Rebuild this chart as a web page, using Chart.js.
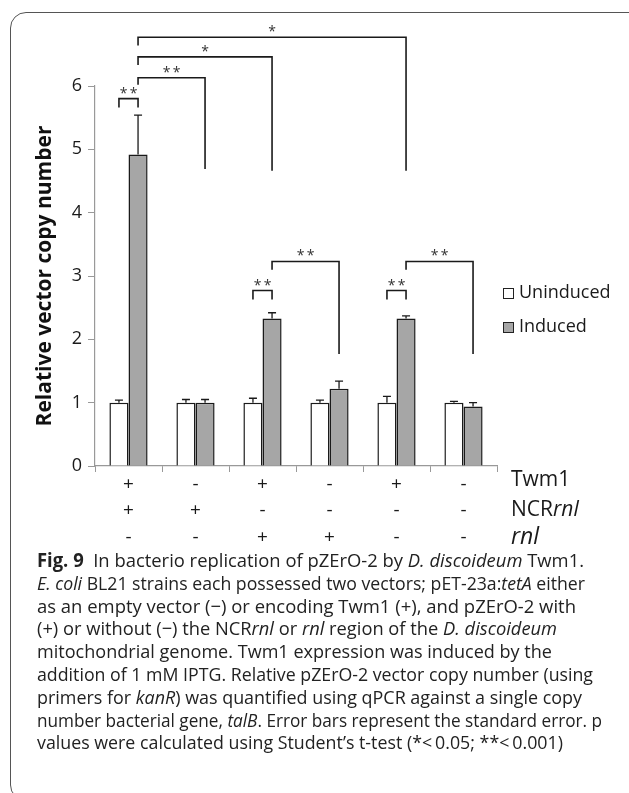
<!DOCTYPE html>
<html>
<head>
<meta charset="utf-8">
<script src="https://cdn.jsdelivr.net/npm/chart.js@4.4.1/dist/chart.umd.min.js"></script>
<style>
  html, body { margin: 0; padding: 0; background: #fff; }
  body { width: 629px; height: 793px; position: relative; overflow: hidden; font-family: 'Open Sans', 'Liberation Sans', sans-serif; color: #1a1a1a; }
  #frame { position: absolute; left: 10px; top: 12px; width: 650px; height: 789px; border: 1.5px solid #555; border-radius: 16px; box-sizing: border-box; }
  #c { position: absolute; left: 0; top: 0; }
  .lg { position: absolute; left: 503px; font-size: 18px; line-height: 22px; white-space: nowrap; }
  .lg span.box { display: inline-block; width: 11px; height: 11px; border: 1.5px solid #222; box-sizing: border-box; margin-right: 5px; vertical-align: -1px; }
  .rl { position: absolute; left: 511px; white-space: nowrap; line-height: 26px; }
  .cap { position: absolute; white-space: nowrap; font-size: 19px; line-height: 22px; transform-origin: 0 50%; color: #222; }
</style>
</head>
<body>
<div id="frame"></div>
<canvas id="c" width="629" height="560"></canvas>

<div class="lg" style="top:280px"><span class="box" style="background:#fff"></span>Uninduced</div>
<div class="lg" style="top:314px"><span class="box" style="background:#a6a6a6"></span>Induced</div>

<div class="rl" style="top:465px;font-size:21px">Twm1</div>
<div class="rl" style="top:495px;font-size:21px">NCR<i>rnl</i></div>
<div class="rl" style="top:522px;font-size:23px"><i>rnl</i></div>

<div id="caption"></div>

<script>
// ---- data ----
const twm1Row   = ['+', '-', '+', '-', '+', '-'];
const ncrRnlRow = ['+', '+', '-', '-', '-', '-'];
const rnlRow    = ['-', '-', '+', '+', '-', '-'];
const seriesNames = ['Uninduced', 'Induced'];
const uninduced    = [1.00, 1.00, 1.00, 1.00, 1.00, 1.00];
const uninducedErr = [0.04, 0.05, 0.07, 0.04, 0.10, 0.02];
const induced      = [4.92, 1.00, 2.33, 1.22, 2.33, 0.94];
const inducedErr   = [0.62, 0.05, 0.09, 0.12, 0.04, 0.06];
const yTicks = [0, 1, 2, 3, 4, 5, 6];

// significance brackets: [group, series] endpoints, y values in data units
const brackets = [
  { a: [0, 0], b: [0, 1], top: 5.80, endA: 5.66, endB: 5.66, label: '**' },
  { a: [0, 1], b: [1, 1], top: 6.13, endA: 6.02, endB: 4.69, label: '**' },
  { a: [0, 1], b: [2, 1], top: 6.46, endA: 6.33, endB: 4.66, label: '*' },
  { a: [0, 1], b: [4, 1], top: 6.77, endA: 6.64, endB: 4.66, label: '*' },
  { a: [2, 0], b: [2, 1], top: 2.77, endA: 2.63, endB: 2.63, label: '**' },
  { a: [2, 1], b: [3, 1], top: 3.23, endA: 3.10, endB: 1.77, label: '**' },
  { a: [4, 0], b: [4, 1], top: 2.77, endA: 2.63, endB: 2.63, label: '**' },
  { a: [4, 1], b: [5, 1], top: 3.23, endA: 3.10, endB: 1.77, label: '**' }
];

const categories = twm1Row.map((t, i) => [t, ncrRnlRow[i], rnlRow[i]]);
const errs = [uninducedErr, inducedErr];

const extras = {
  id: 'extras',
  afterDatasetsDraw(chart) {
    const ctx = chart.ctx;
    const y = chart.scales.y;
    ctx.save();
    // error bars (upper only)
    ctx.strokeStyle = '#1a1a1a';
    ctx.lineWidth = 1.3;
    chart.data.datasets.forEach((ds, di) => {
      const meta = chart.getDatasetMeta(di);
      meta.data.forEach((bar, i) => {
        const v = ds.data[i];
        const yt = y.getPixelForValue(v + errs[di][i]);
        const yb = y.getPixelForValue(v);
        ctx.beginPath();
        ctx.moveTo(bar.x, yb);
        ctx.lineTo(bar.x, yt);
        ctx.moveTo(bar.x - 4, yt);
        ctx.lineTo(bar.x + 4, yt);
        ctx.stroke();
      });
    });
    // brackets
    ctx.lineWidth = 1.6;
    ctx.strokeStyle = '#1a1a1a';
    ctx.fillStyle = '#333';
    ctx.font = '14px "Open Sans"';
    ctx.textAlign = 'center';
    ctx.textBaseline = 'alphabetic';
    brackets.forEach(b => {
      const xa = chart.getDatasetMeta(b.a[1]).data[b.a[0]].x;
      const xb = chart.getDatasetMeta(b.b[1]).data[b.b[0]].x;
      const yt = y.getPixelForValue(b.top);
      ctx.beginPath();
      ctx.moveTo(xa, y.getPixelForValue(b.endA));
      ctx.lineTo(xa, yt);
      ctx.lineTo(xb, yt);
      ctx.lineTo(xb, y.getPixelForValue(b.endB));
      ctx.stroke();
      const txt = b.label.split('').join('\u2009');
      ctx.fillText(txt, (xa + xb) / 2, yt - 1);
    });
    ctx.restore();
  }
};

new Chart(document.getElementById('c'), {
  type: 'bar',
  data: {
    labels: categories,
    datasets: [
      { label: seriesNames[0], data: uninduced, backgroundColor: '#ffffff', borderColor: '#1a1a1a', borderWidth: 1.5 },
      { label: seriesNames[1], data: induced, backgroundColor: '#a6a6a6', borderColor: '#1a1a1a', borderWidth: 1.5 }
    ]
  },
  options: {
    responsive: false,
    devicePixelRatio: 1,
    animation: false,
    events: [],
    layout: { padding: { left: 0, top: 86, right: 132, bottom: 0 } },
    datasets: { bar: { categoryPercentage: 0.57, barPercentage: 1.0 } },
    plugins: { legend: { display: false }, tooltip: { enabled: false } },
    scales: {
      x: {
        grid: { display: true, offset: true, drawOnChartArea: false, drawTicks: true, tickLength: 6, color: '#999', lineWidth: 1 },
        border: { display: true, color: '#999', width: 1.2 },
        ticks: { color: '#1a1a1a', font: { family: 'Open Sans', size: 19, lineHeight: 1.4 }, padding: -1, maxRotation: 0, autoSkip: false },
        afterFit(s) { s.height = 94; }
      },
      y: {
        min: 0, max: 6,
        afterBuildTicks(s) { s.ticks = yTicks.map(v => ({ value: v })); },
        grid: { display: true, drawOnChartArea: false, drawTicks: true, tickLength: 7, color: '#999', lineWidth: 1 },
        border: { display: true, color: '#999', width: 1.2 },
        ticks: { color: '#1a1a1a', font: { family: 'Open Sans', size: 18 }, padding: 6 },
        title: { display: true, text: 'Relative vector copy number', color: '#111', font: { family: 'Open Sans', size: 21, weight: 'bold' }, padding: { top: 32, bottom: 0 } },
        afterFit(s) { s.width = 95; }
      }
    }
  },
  plugins: [extras]
});

// caption
const capLines = [
  '<b>Fig. 9</b>&nbsp; In bacterio replication of pZErO-2 by <i>D. discoideum</i> Twm1.',
  '<i>E. coli</i> BL21 strains each possessed two vectors; pET-23a:<i>tetA</i> either',
  'as an empty vector (\u2212) or encoding Twm1 (+), and pZErO-2 with',
  '(+) or without (\u2212) the NCR<i>rnl</i> or <i>rnl</i> region of the <i>D. discoideum</i>',
  'mitochondrial genome. Twm1 expression was induced by the',
  'addition of 1 mM IPTG. Relative pZErO-2 vector copy number (using',
  'primers for <i>kanR</i>) was quantified using qPCR against a single copy',
  'number bacterial gene, <i>talB</i>. Error bars represent the standard error. p',
  'values were calculated using Student\u2019s t-test (*&lt;\u20090.05; **&lt;\u20090.001)'
];
const capRight = [584, 585, 576, 557, 552, 593, 582, 602, 563];
const capLeft = 37;
const cap = document.getElementById('caption');
capLines.forEach((h, i) => {
  const d = document.createElement('div');
  d.className = 'cap';
  d.innerHTML = h;
  d.style.left = capLeft + 'px';
  d.style.top = (560 + i * 22.8 - 11) + 'px';
  cap.appendChild(d);
  const w = d.getBoundingClientRect().width;
  d.style.transform = 'scaleX(' + ((capRight[i] - capLeft) / w).toFixed(4) + ')';
});
</script>
</body>
</html>
